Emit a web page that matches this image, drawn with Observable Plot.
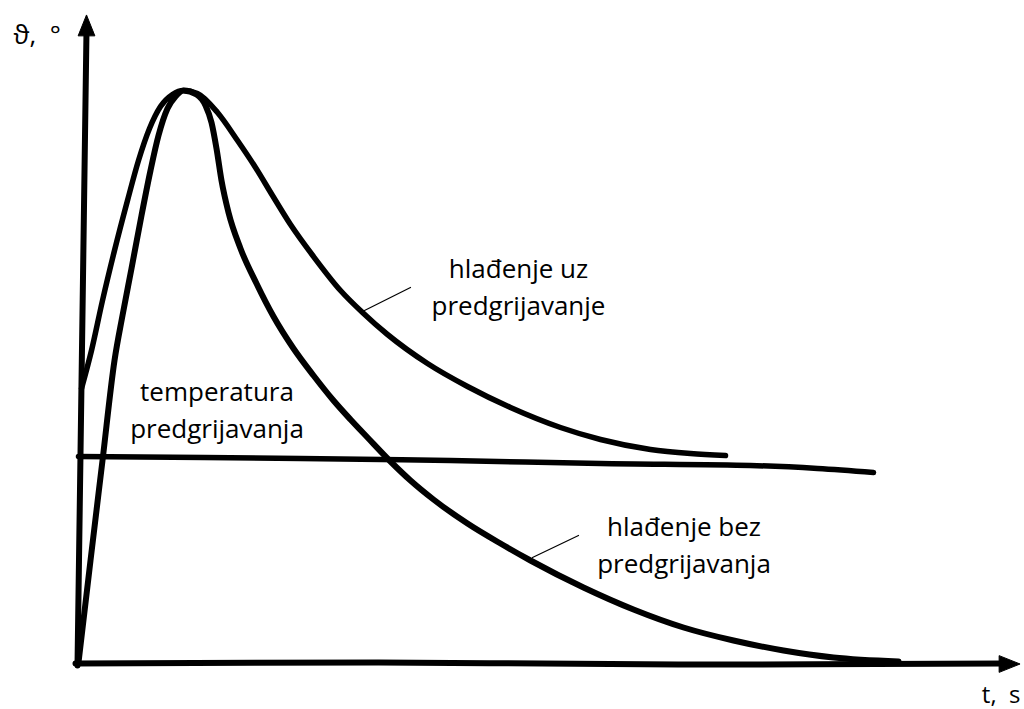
<!DOCTYPE html>
<html>
<head>
<meta charset="utf-8">
<script src="https://cdn.jsdelivr.net/npm/d3@7"></script>
<script src="https://cdn.jsdelivr.net/npm/@observablehq/plot@0.6"></script>
<style>
  html, body { margin: 0; padding: 0; background: #fff; }
  #chart svg { display: block; }
</style>
</head>
<body>
<div id="chart"></div>
<script>
// Curve: cooling with preheating (hlađenje uz predgrijavanje)
const uzT     = [0.3, 1.3, 2.4, 3.6, 4.9, 6.0, 7.1, 8.2, 9.4, 10.5, 11.9, 13.9, 15.9, 17.7, 19.4, 21.2, 23.5, 26.2, 28.4, 30.9, 34.9, 38.9, 43.2, 48.2, 52.2, 57.2, 61.2, 64.7];
const uzTheta = [27.4, 31.2, 36.2, 41.2, 46.2, 50.2, 53.4, 55.6, 56.8, 57.2, 56.9, 55.0, 52.2, 49.5, 46.7, 43.8, 40.6, 37.2, 35.0, 32.8, 29.9, 27.6, 25.5, 23.5, 22.3, 21.3, 20.9, 20.7];

// Curve: cooling without preheating (hlađenje bez predgrijavanja)
const bezT     = [0.0, 1.2, 2.4, 3.6, 4.4, 5.3, 6.3, 7.2, 8.0, 8.9, 9.7, 10.5, 11.8, 12.7, 13.3, 13.8, 14.3, 15.0, 16.2, 17.8, 19.5, 21.5, 23.5, 25.5, 27.2, 28.9, 31.2, 33.2, 35.5, 38.9, 42.2, 45.2, 50.5, 55.5, 60.5, 65.5, 70.5, 75.5, 82.0];
const bezTheta = [0.0, 10.2, 20.2, 30.2, 34.7, 39.4, 44.7, 49.2, 52.7, 55.4, 56.6, 57.2, 56.8, 55.7, 54.0, 51.4, 48.2, 45.0, 41.4, 37.9, 34.6, 31.4, 28.7, 26.2, 24.3, 22.5, 20.1, 18.2, 16.3, 13.9, 11.9, 10.2, 7.5, 5.3, 3.5, 2.2, 1.2, 0.5, 0.1];

// Preheating temperature line (temperatura predgrijavanja)
const preT     = [0.0, 22.2, 37.2, 52.2, 67.2, 73.9, 79.5];
const preTheta = [20.6, 20.4, 20.2, 19.9, 19.7, 19.4, 19.0];

// Hand-drawn axes (endpoints)
const yAxisT = [-0.1, 0.8];
const yAxisTheta = [-0.3, 63.2];
const xAxisT = [-0.3, 30, 60, 92.5];
const xAxisTheta = [-0.1, 0.0, -0.2, -0.1];

// Arrowheads
const arrowT = [0.8, 92.9];
const arrowTheta = [63.5, -0.15];
const arrowRotate = [0, 90];

// Labels
const labelText = ["hlađenje uz\npredgrijavanje", "temperatura\npredgrijavanja", "hlađenje bez\npredgrijavanja"];
const labelT = [44.0, 13.85, 60.55];
const labelTheta = [34.8, 22.5, 9.0];

// Leader lines from labels to curves
const leaderUz  = [[28.2, 35.0], [33.2, 37.5]];
const leaderBez = [[45.4, 10.5], [50.0, 12.7]];

// Axis titles
const axisText = ["ϑ,\u00a0\u00a0°", "t,\u00a0\u00a0s"];
const axisT = [-6.5, 94.2];
const axisTheta = [61.9, -4.0];
const axisAnchor = ["start", "end"];
const axisSize = [26, 24];

const zip = (ts, ths) => ts.map((t, i) => ({t, theta: ths[i]}));
const uz = zip(uzT, uzTheta);
const bez = zip(bezT, bezTheta);
const pre = zip(preT, preTheta);
const yAxis = zip(yAxisT, yAxisTheta);
const xAxis = zip(xAxisT, xAxisTheta);
const arrows = arrowT.map((t, i) => ({t, theta: arrowTheta[i], rot: arrowRotate[i]}));
const labels = labelText.map((s, i) => ({s, t: labelT[i], theta: labelTheta[i]}));
const leaders = [leaderUz, leaderBez].map(l => l.map(([t, theta]) => ({t, theta})));

const arrowSymbol = {
  draw(context, size) {
    const s = Math.sqrt(size);
    context.moveTo(0, -s * 0.6);
    context.lineTo(s * 0.4, s * 0.4);
    context.lineTo(-s * 0.4, s * 0.4);
    context.closePath();
  }
};

const font = "'Open Sans', 'DejaVu Sans', sans-serif";

const chart = Plot.plot({
  width: 1024,
  height: 709,
  margin: 0,
  style: {background: "#fff", fontFamily: font, color: "#000"},
  x: {domain: [0, 94], range: [78, 1018], axis: null},
  y: {domain: [0, 65], range: [662, 12], axis: null},
  marks: [
    Plot.line(yAxis, {x: "t", y: "theta", stroke: "#000", strokeWidth: 6, strokeLinecap: "round"}),
    Plot.line(xAxis, {x: "t", y: "theta", stroke: "#000", strokeWidth: 6, strokeLinecap: "round", curve: "catmull-rom"}),
    Plot.dot(arrows, {x: "t", y: "theta", rotate: "rot", symbol: arrowSymbol, r: 11.8, fill: "#000", stroke: "#000", strokeWidth: 1}),
    Plot.line(pre, {x: "t", y: "theta", stroke: "#000", strokeWidth: 5.5, strokeLinecap: "round", curve: "catmull-rom"}),
    Plot.line(uz, {x: "t", y: "theta", stroke: "#000", strokeWidth: 5.5, strokeLinecap: "round", strokeLinejoin: "round", curve: "monotone-x"}),
    Plot.line(bez, {x: "t", y: "theta", stroke: "#000", strokeWidth: 6, strokeLinecap: "round", strokeLinejoin: "round", curve: "monotone-x"}),
    ...leaders.map(l => Plot.line(l, {x: "t", y: "theta", stroke: "#000", strokeWidth: 1.2})),
    Plot.text(labels, {x: "t", y: "theta", text: "s", fontSize: 26, lineHeight: 1.4, textAnchor: "middle", lineAnchor: "bottom", fill: "#000", fontFamily: font}),
    ...axisText.map((s, i) => Plot.text([s], {x: axisT[i], y: axisTheta[i], text: d => d, fontSize: axisSize[i], textAnchor: axisAnchor[i], lineAnchor: "bottom", fill: "#000", fontFamily: font}))
  ]
});

document.getElementById("chart").appendChild(chart);
</script>
</body>
</html>
